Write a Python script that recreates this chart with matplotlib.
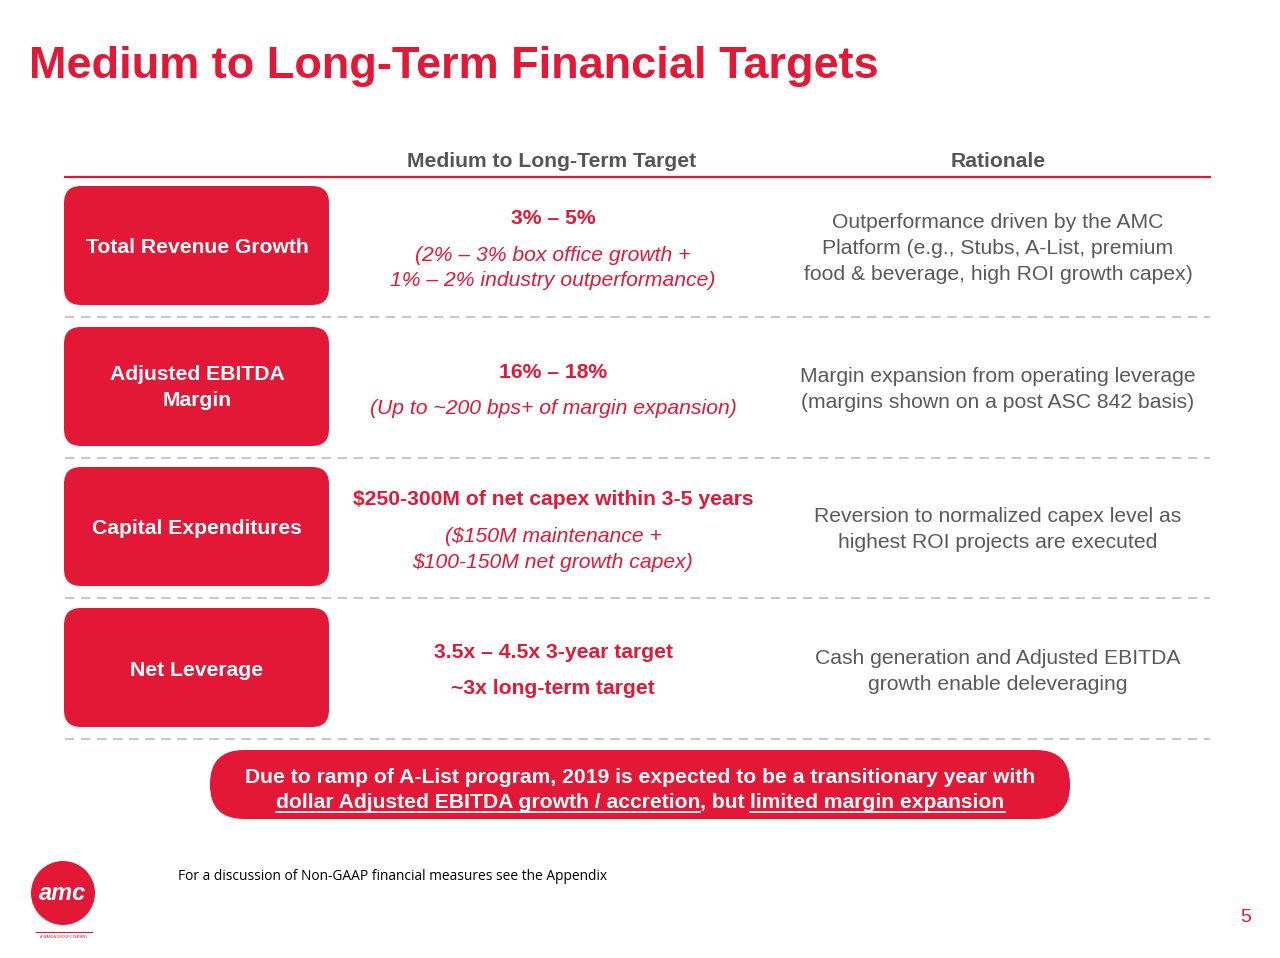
import matplotlib
matplotlib.use("Agg")
import matplotlib.pyplot as plt
from matplotlib.patches import FancyBboxPatch, Circle

RED = "#E31837"
GRAY = "#595959"
HEAD = "#555555"
FONT = ["Liberation Sans", "DejaVu Sans"]
FS = 15.2

title = "Medium to Long-Term Financial Targets"
col_headers = ["Medium to Long-Term Target", "Rationale"]

row_labels = [["Total Revenue Growth"], ["Adjusted EBITDA", "Margin"],
              ["Capital Expenditures"], ["Net Leverage"]]
label_y = [[247], [375, 401], [529], [670]]

# (text, style, y) lines for the target column
targets = [
    [("3% – 5%", "b", 218), ("(2% – 3% box office growth +", "i", 255),
     ("1% – 2% industry outperformance)", "i", 281)],
    [("16% – 18%", "b", 372), ("(Up to ~200 bps+ of margin expansion)", "i", 409)],
    [("$250-300M of net capex within 3-5 years", "b", 499),
     ("($150M maintenance +", "i", 536), ("$100-150M net growth capex)", "i", 562)],
    [("3.5x – 4.5x 3-year target", "b", 653), ("~3x long-term target", "b", 689)],
]

rationales = [
    ["Outperformance driven by the AMC", "Platform (e.g., Stubs, A-List, premium",
     "food & beverage, high ROI growth capex)"],
    ["Margin expansion from operating leverage",
     "(margins shown on a post ASC 842 basis)"],
    ["Reversion to normalized capex level as", "highest ROI projects are executed"],
    ["Cash generation and Adjusted EBITDA", "growth enable deleveraging"],
]
rat_y = [[222, 248, 274], [377, 403], [517, 543], [659, 685]]

box_tops = [186, 327, 467, 608]

banner_line1 = "Due to ramp of A-List program, 2019 is expected to be a transitionary year with"
banner_parts = [("dollar Adjusted EBITDA growth / accretion", True), (", but ", False),
                ("limited margin expansion", True)]
footnote = "For a discussion of Non-GAAP financial measures see the Appendix"

fig = plt.figure(figsize=(12.8, 9.58), dpi=100)
ax = fig.add_axes([0, 0, 1, 1])
ax.set_xlim(0, 1280)
ax.set_ylim(958, 0)
ax.axis("off")

ax.text(29, 66, title, color=RED, fontsize=32.5, fontweight="bold",
        family=FONT, va="center", ha="left")

ax.text(552, 161, col_headers[0], color=HEAD, fontsize=FS, fontweight="bold",
        family=FONT, ha="center", va="center")
ax.text(998, 161, col_headers[1], color=HEAD, fontsize=FS, fontweight="bold",
        family=FONT, ha="center", va="center")
ax.plot([65, 1210], [177, 177], color=RED, lw=1.6)

for i, top in enumerate(box_tops):
    ax.add_patch(FancyBboxPatch((64, top), 265, 119,
                                boxstyle="round,pad=0,rounding_size=17",
                                fc=RED, ec="none"))
    for txt, y in zip(row_labels[i], label_y[i]):
        ax.text(197, y, txt, color="white", fontsize=FS, fontweight="bold",
                family=FONT, ha="center", va="center")
    for txt, st, y in targets[i]:
        ax.text(553, y, txt, color=RED, fontsize=FS,
                fontweight="bold" if st == "b" else "normal",
                style="italic" if st == "i" else "normal",
                family=FONT, ha="center", va="center")
    for txt, y in zip(rationales[i], rat_y[i]):
        ax.text(998, y, txt, color=GRAY, fontsize=FS, family=FONT,
                ha="center", va="center")
    dy = top + 131
    ax.plot([65, 1210], [dy, dy], color="#C4C8C8", lw=1.5, ls=(0, (4.5, 3.2)))

# banner
ax.add_patch(FancyBboxPatch((210, 750), 860, 69,
                            boxstyle="round,pad=0,rounding_size=34",
                            fc=RED, ec="none"))
ax.text(640, 783, banner_line1, color="white", fontsize=FS, fontweight="bold",
        family=FONT, ha="center", va="baseline")

fig.canvas.draw()
rend = fig.canvas.get_renderer()
widths = []
for txt, _ in banner_parts:
    t = ax.text(0, 0, txt, fontsize=FS, fontweight="bold", family=FONT)
    widths.append(t.get_window_extent(rend).width)
    t.remove()
t = ax.text(0, 0, "".join(p for p, _ in banner_parts), fontsize=FS,
            fontweight="bold", family=FONT)
total = t.get_window_extent(rend).width
t.remove()
x = 640 - total / 2
for (txt, ul), w in zip(banner_parts, widths):
    ax.text(x, 808, txt, color="white", fontsize=FS, fontweight="bold",
            family=FONT, ha="left", va="baseline")
    if ul:
        ax.plot([x, x + w], [812, 812], color="white", lw=1.3)
    x += w

ax.text(178, 877, footnote, color="black", fontsize=9.9,
        family=["Open Sans", "DejaVu Sans"], ha="left", va="center")

# logo
ax.add_patch(Circle((63, 893), 32, fc=RED, ec="none"))
ax.text(63, 894, "amc", color="white", fontsize=17, fontweight="bold",
        style="italic", family=FONT, ha="center", va="center")
ax.plot([36, 92], [932, 932], color=RED, lw=0.8)
ax.text(64, 937, "A WANDA GROUP COMPANY", color=RED, fontsize=2.5, family=FONT,
        ha="center", va="center")

ax.text(1246, 917, "5", color=RED, fontsize=14, family=FONT, ha="center",
        va="center")

fig.savefig("out.png", dpi=100)
